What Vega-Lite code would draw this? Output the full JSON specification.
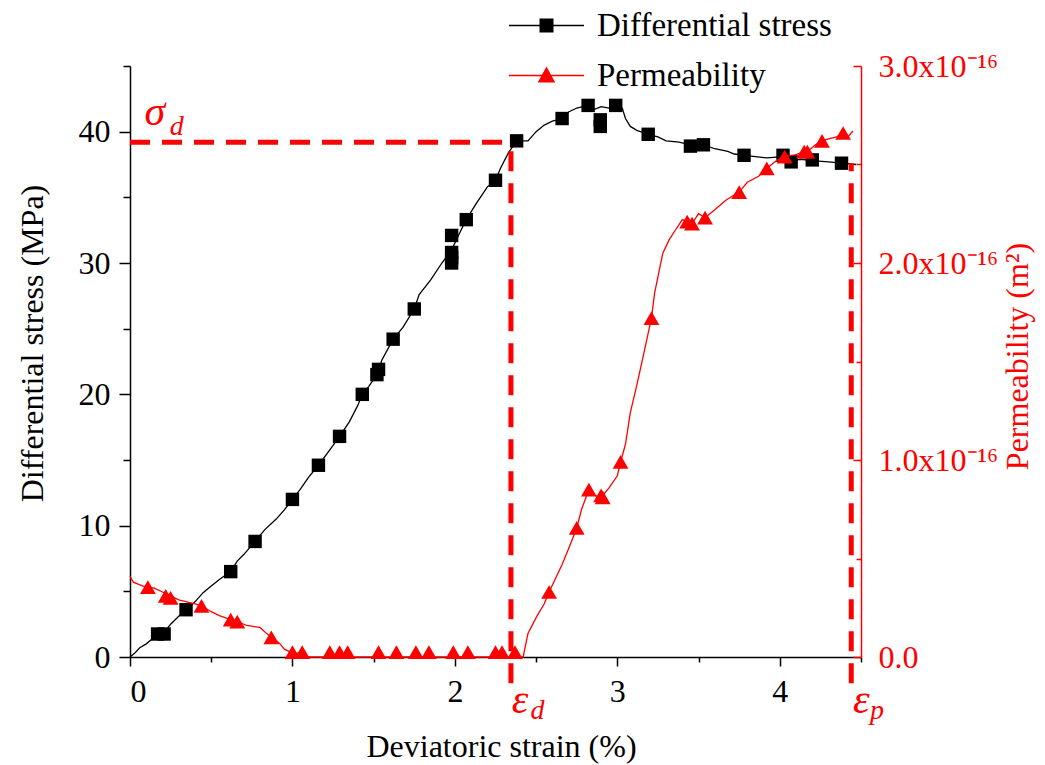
{
  "$schema": "https://vega.github.io/schema/vega-lite/v6.json",
  "width": 731,
  "height": 591,
  "autosize": {"type": "none"},
  "padding": {"left": 130, "top": 66, "right": 184, "bottom": 108},
  "background": "white",
  "config": {
    "view": {"stroke": null},
    "font": "Liberation Serif",
    "axis": {
      "labelFont": "Liberation Serif",
      "titleFont": "Liberation Serif",
      "labelFontSize": 32,
      "titleFontSize": 32,
      "titleFontWeight": "normal",
      "labelColor": "#000000",
      "titleColor": "#000000",
      "grid": false,
      "domainWidth": 1.5,
      "tickWidth": 1.5,
      "domainColor": "#000000",
      "tickColor": "#000000"
    }
  },
  "datasets": {
    "stressLine": [
      {"strain": 0, "stress": 0}, {"strain": 0.03, "stress": 0.3}, {"strain": 0.06, "stress": 0.7},
      {"strain": 0.1, "stress": 1.0}, {"strain": 0.14, "stress": 1.4}, {"strain": 0.17, "stress": 1.75},
      {"strain": 0.21, "stress": 1.85}, {"strain": 0.25, "stress": 2.5}, {"strain": 0.3, "stress": 3.1},
      {"strain": 0.345, "stress": 3.6}, {"strain": 0.4, "stress": 4.2}, {"strain": 0.45, "stress": 4.9},
      {"strain": 0.5, "stress": 5.4}, {"strain": 0.55, "stress": 5.9}, {"strain": 0.62, "stress": 6.5},
      {"strain": 0.66, "stress": 7.3}, {"strain": 0.7, "stress": 7.8}, {"strain": 0.77, "stress": 8.8},
      {"strain": 0.83, "stress": 9.7}, {"strain": 0.9, "stress": 10.5}, {"strain": 0.95, "stress": 11.2},
      {"strain": 1.0, "stress": 12.0}, {"strain": 1.05, "stress": 12.8}, {"strain": 1.1, "stress": 13.7},
      {"strain": 1.16, "stress": 14.6}, {"strain": 1.22, "stress": 15.6}, {"strain": 1.29, "stress": 16.8},
      {"strain": 1.35, "stress": 17.9}, {"strain": 1.4, "stress": 19.1}, {"strain": 1.43, "stress": 20.0},
      {"strain": 1.47, "stress": 20.6}, {"strain": 1.52, "stress": 21.5}, {"strain": 1.55, "stress": 22.6},
      {"strain": 1.62, "stress": 24.2}, {"strain": 1.68, "stress": 25.1}, {"strain": 1.75, "stress": 26.5},
      {"strain": 1.78, "stress": 27.6}, {"strain": 1.85, "stress": 28.7}, {"strain": 1.92, "stress": 30.0},
      {"strain": 1.98, "stress": 31.0}, {"strain": 2.03, "stress": 32.3}, {"strain": 2.07, "stress": 33.3},
      {"strain": 2.13, "stress": 34.5}, {"strain": 2.2, "stress": 35.8}, {"strain": 2.25, "stress": 36.3},
      {"strain": 2.28, "stress": 37.2}, {"strain": 2.33, "stress": 38.4}, {"strain": 2.38, "stress": 39.3},
      {"strain": 2.45, "stress": 39.3}, {"strain": 2.5, "stress": 40.0}, {"strain": 2.55, "stress": 40.5},
      {"strain": 2.6, "stress": 40.8}, {"strain": 2.66, "stress": 41.0}, {"strain": 2.7, "stress": 41.5},
      {"strain": 2.75, "stress": 41.8}, {"strain": 2.82, "stress": 42.0}, {"strain": 2.86, "stress": 41.7},
      {"strain": 2.9, "stress": 41.9}, {"strain": 2.95, "stress": 41.8}, {"strain": 2.99, "stress": 42.0},
      {"strain": 3.03, "stress": 41.8}, {"strain": 3.05, "stress": 41.0}, {"strain": 3.08, "stress": 40.4},
      {"strain": 3.12, "stress": 40.1}, {"strain": 3.19, "stress": 39.8}, {"strain": 3.25, "stress": 39.6},
      {"strain": 3.3, "stress": 39.3}, {"strain": 3.38, "stress": 39.2}, {"strain": 3.45, "stress": 39.0},
      {"strain": 3.53, "stress": 39.0}, {"strain": 3.6, "stress": 38.7}, {"strain": 3.68, "stress": 38.5},
      {"strain": 3.72, "stress": 38.3}, {"strain": 3.78, "stress": 38.2}, {"strain": 3.85, "stress": 38.1},
      {"strain": 3.92, "stress": 38.0}, {"strain": 4.02, "stress": 38.1}, {"strain": 4.07, "stress": 37.8},
      {"strain": 4.13, "stress": 37.9}, {"strain": 4.2, "stress": 37.8}, {"strain": 4.3, "stress": 37.7},
      {"strain": 4.38, "stress": 37.6}, {"strain": 4.47, "stress": 37.5}
    ],
    "stressMarks": [
      {"strain": 0.17, "stress": 1.75}, {"strain": 0.21, "stress": 1.75}, {"strain": 0.345, "stress": 3.6},
      {"strain": 0.62, "stress": 6.5}, {"strain": 0.77, "stress": 8.8}, {"strain": 1.0, "stress": 12.0},
      {"strain": 1.16, "stress": 14.6}, {"strain": 1.29, "stress": 16.8}, {"strain": 1.43, "stress": 20.0},
      {"strain": 1.52, "stress": 21.5}, {"strain": 1.53, "stress": 21.9}, {"strain": 1.62, "stress": 24.2},
      {"strain": 1.75, "stress": 26.5}, {"strain": 1.98, "stress": 30.0}, {"strain": 1.98, "stress": 30.4},
      {"strain": 1.98, "stress": 30.8}, {"strain": 1.98, "stress": 32.1}, {"strain": 2.07, "stress": 33.3},
      {"strain": 2.25, "stress": 36.3}, {"strain": 2.38, "stress": 39.3}, {"strain": 2.66, "stress": 41.0},
      {"strain": 2.82, "stress": 42.0}, {"strain": 2.895, "stress": 40.4}, {"strain": 2.895, "stress": 40.9},
      {"strain": 2.99, "stress": 42.0}, {"strain": 3.19, "stress": 39.8}, {"strain": 3.45, "stress": 38.9},
      {"strain": 3.53, "stress": 39.0}, {"strain": 3.78, "stress": 38.2}, {"strain": 4.02, "stress": 38.2},
      {"strain": 4.07, "stress": 37.7}, {"strain": 4.2, "stress": 37.85}, {"strain": 4.38, "stress": 37.6}
    ],
    "permLine": [
      {"strain": 0, "perm": 4.1e-17}, {"strain": 0.02, "perm": 3.8e-17}, {"strain": 0.05, "perm": 3.7e-17},
      {"strain": 0.08, "perm": 3.6e-17}, {"strain": 0.11, "perm": 3.55e-17}, {"strain": 0.15, "perm": 3.5e-17},
      {"strain": 0.2, "perm": 3.3e-17}, {"strain": 0.25, "perm": 3.1e-17}, {"strain": 0.3, "perm": 2.9e-17},
      {"strain": 0.35, "perm": 2.8e-17}, {"strain": 0.4, "perm": 2.7e-17}, {"strain": 0.44, "perm": 2.6e-17},
      {"strain": 0.5, "perm": 2.3e-17}, {"strain": 0.55, "perm": 2.1e-17}, {"strain": 0.62, "perm": 1.9e-17},
      {"strain": 0.66, "perm": 1.8e-17}, {"strain": 0.72, "perm": 1.6e-17}, {"strain": 0.8, "perm": 1.5e-17},
      {"strain": 0.84, "perm": 1.2e-17}, {"strain": 0.87, "perm": 1.0e-17}, {"strain": 0.92, "perm": 7e-18},
      {"strain": 0.95, "perm": 4e-18}, {"strain": 1.0, "perm": 2e-18}, {"strain": 1.06, "perm": 2e-18},
      {"strain": 1.1, "perm": 0}, {"strain": 2.42, "perm": 0}, {"strain": 2.45, "perm": 1.2e-17},
      {"strain": 2.5, "perm": 2.0e-17}, {"strain": 2.55, "perm": 2.7e-17}, {"strain": 2.58, "perm": 3.3e-17},
      {"strain": 2.62, "perm": 4.0e-17}, {"strain": 2.66, "perm": 4.7e-17}, {"strain": 2.7, "perm": 5.5e-17},
      {"strain": 2.75, "perm": 6.55e-17}, {"strain": 2.78, "perm": 7.5e-17}, {"strain": 2.825, "perm": 8.5e-17},
      {"strain": 2.86, "perm": 8.2e-17}, {"strain": 2.9, "perm": 8.1e-17}, {"strain": 2.95, "perm": 8.6e-17},
      {"strain": 3.0, "perm": 9.2e-17}, {"strain": 3.02, "perm": 9.9e-17}, {"strain": 3.05, "perm": 1.08e-16},
      {"strain": 3.08, "perm": 1.24e-16}, {"strain": 3.12, "perm": 1.38e-16}, {"strain": 3.16, "perm": 1.53e-16},
      {"strain": 3.21, "perm": 1.72e-16}, {"strain": 3.23, "perm": 1.85e-16}, {"strain": 3.26, "perm": 1.97e-16},
      {"strain": 3.28, "perm": 2.05e-16}, {"strain": 3.32, "perm": 2.12e-16}, {"strain": 3.36, "perm": 2.17e-16},
      {"strain": 3.4, "perm": 2.22e-16}, {"strain": 3.43, "perm": 2.21e-16}, {"strain": 3.46, "perm": 2.2e-16},
      {"strain": 3.5, "perm": 2.25e-16}, {"strain": 3.54, "perm": 2.23e-16}, {"strain": 3.6, "perm": 2.27e-16},
      {"strain": 3.67, "perm": 2.32e-16}, {"strain": 3.75, "perm": 2.36e-16}, {"strain": 3.8, "perm": 2.41e-16},
      {"strain": 3.87, "perm": 2.44e-16}, {"strain": 3.92, "perm": 2.48e-16}, {"strain": 3.98, "perm": 2.52e-16},
      {"strain": 4.03, "perm": 2.54e-16}, {"strain": 4.1, "perm": 2.55e-16}, {"strain": 4.15, "perm": 2.565e-16},
      {"strain": 4.17, "perm": 2.565e-16}, {"strain": 4.22, "perm": 2.6e-16}, {"strain": 4.26, "perm": 2.62e-16},
      {"strain": 4.3, "perm": 2.63e-16}, {"strain": 4.35, "perm": 2.64e-16}, {"strain": 4.39, "perm": 2.66e-16},
      {"strain": 4.42, "perm": 2.64e-16}, {"strain": 4.45, "perm": 2.67e-16}
    ],
    "permMarks": [
      {"strain": 0.11, "perm": 3.55e-17}, {"strain": 0.22, "perm": 3.1e-17}, {"strain": 0.25, "perm": 3.0e-17},
      {"strain": 0.44, "perm": 2.6e-17}, {"strain": 0.62, "perm": 1.9e-17}, {"strain": 0.66, "perm": 1.8e-17},
      {"strain": 0.87, "perm": 1.0e-17}, {"strain": 1.0, "perm": 2.5e-18}, {"strain": 1.06, "perm": 2.5e-18},
      {"strain": 1.23, "perm": 2.5e-18}, {"strain": 1.29, "perm": 2.5e-18}, {"strain": 1.34, "perm": 2.5e-18},
      {"strain": 1.53, "perm": 2.5e-18}, {"strain": 1.64, "perm": 2.5e-18}, {"strain": 1.76, "perm": 2.5e-18},
      {"strain": 1.84, "perm": 2.5e-18}, {"strain": 1.99, "perm": 2.5e-18}, {"strain": 2.08, "perm": 2.5e-18},
      {"strain": 2.25, "perm": 2.5e-18}, {"strain": 2.29, "perm": 2.5e-18}, {"strain": 2.37, "perm": 2.5e-18},
      {"strain": 2.58, "perm": 3.3e-17}, {"strain": 2.75, "perm": 6.55e-17}, {"strain": 2.825, "perm": 8.5e-17},
      {"strain": 2.9, "perm": 8.2e-17}, {"strain": 2.91, "perm": 8.1e-17}, {"strain": 3.02, "perm": 9.9e-17},
      {"strain": 3.21, "perm": 1.72e-16}, {"strain": 3.43, "perm": 2.21e-16}, {"strain": 3.46, "perm": 2.2e-16},
      {"strain": 3.54, "perm": 2.23e-16}, {"strain": 3.75, "perm": 2.36e-16}, {"strain": 3.92, "perm": 2.48e-16},
      {"strain": 4.03, "perm": 2.54e-16}, {"strain": 4.15, "perm": 2.565e-16}, {"strain": 4.17, "perm": 2.565e-16},
      {"strain": 4.26, "perm": 2.62e-16}, {"strain": 4.39, "perm": 2.66e-16}
    ],
    "guides": [
      {"strain": 0, "strain2": 2.345, "stress": 39.2, "stress2": 39.2},
      {"strain": 2.345, "strain2": 2.345, "stress": -2, "stress2": 39.2},
      {"strain": 4.44, "strain2": 4.44, "stress": -2, "stress2": 37.6}
    ],
    "symbols": [
      {"label": "σ", "strain": 0.09, "stress": 40.5},
      {"label": "ε", "strain": 2.35, "stress": -4.3},
      {"label": "ε", "strain": 4.45, "stress": -4.3}
    ],
    "subscripts": [
      {"label": "d", "strain": 0.245, "stress": 39.75},
      {"label": "d", "strain": 2.465, "stress": -4.75},
      {"label": "p", "strain": 4.555, "stress": -4.7}
    ]
  },
  "layer": [
    {
      "layer": [
        {
          "data": {"name": "stressLine"},
          "mark": {"type": "line", "color": "#000000", "strokeWidth": 1.3},
          "encoding": {
            "x": {
              "field": "strain", "type": "quantitative",
              "scale": {"domain": [0, 4.5], "nice": false},
              "axis": {
                "orient": "bottom",
                "values": [0, 1, 2, 3, 4],
                "format": "d",
                "tickSize": 9,
                "labelPadding": 10,
                "title": "Deviatoric strain (%)",
                "titleX": 371,
                "titleY": 99,
                "titleBaseline": "alphabetic"
              }
            },
            "y": {
              "field": "stress", "type": "quantitative",
              "scale": {"domain": [0, 45], "nice": false},
              "axis": {
                "orient": "left",
                "values": [0, 10, 20, 30, 40],
                "format": "d",
                "tickSize": 11,
                "labelPadding": 9,
                "title": "Differential stress (MPa)",
                "titleAngle": -90,
                "titleX": -88,
                "titleY": 277,
                "titleAlign": "center",
                "titleBaseline": "alphabetic"
              }
            }
          }
        },
        {
          "data": {"name": "stressMarks"},
          "mark": {"type": "point", "shape": "square", "filled": true, "size": 180, "opacity": 1, "color": "#000000"},
          "encoding": {
            "x": {"field": "strain", "type": "quantitative"},
            "y": {"field": "stress", "type": "quantitative"}
          }
        },
        {
          "data": {"name": "guides"},
          "mark": {"type": "rule", "color": "#ff0000", "strokeWidth": 5, "strokeDash": [20, 12]},
          "encoding": {
            "x": {"field": "strain", "type": "quantitative"},
            "x2": {"field": "strain2"},
            "y": {"field": "stress", "type": "quantitative"},
            "y2": {"field": "stress2"}
          }
        },
        {
          "data": {"name": "symbols"},
          "mark": {"type": "text", "font": "Liberation Serif", "fontStyle": "italic", "fontSize": 42, "color": "#ff0000", "align": "left", "baseline": "alphabetic"},
          "encoding": {
            "x": {"field": "strain", "type": "quantitative"},
            "y": {"field": "stress", "type": "quantitative"},
            "text": {"field": "label"}
          }
        },
        {
          "data": {"name": "subscripts"},
          "mark": {"type": "text", "font": "Liberation Serif", "fontStyle": "italic", "fontSize": 28, "color": "#ff0000", "align": "left", "baseline": "alphabetic"},
          "encoding": {
            "x": {"field": "strain", "type": "quantitative"},
            "y": {"field": "stress", "type": "quantitative"},
            "text": {"field": "label"}
          }
        },
        {
          "data": {"values": []},
          "mark": {"type": "point", "filled": true, "opacity": 1, "strokeWidth": 1.5, "size": 625},
          "encoding": {
            "fill": {
              "datum": "Differential stress",
              "scale": {"domain": ["Differential stress", "Permeability"], "range": ["#000000", "#ff0000"]},
              "legend": {"title": null, "orient": "none", "legendX": 400, "legendY": -57, "padding": 0, "labelFont": "Liberation Serif", "labelFontSize": 33, "labelColor": "#000000", "labelLimit": 0, "labelOffset": 34, "rowPadding": 16, "symbolSize": 625, "symbolStrokeWidth": 1.5}
            },
            "stroke": {
              "datum": "Differential stress",
              "scale": {"domain": ["Differential stress", "Permeability"], "range": ["#000000", "#ff0000"]},
              "legend": {"title": null, "orient": "none", "legendX": 400, "legendY": -57, "padding": 0, "labelFont": "Liberation Serif", "labelFontSize": 33, "labelColor": "#000000", "labelLimit": 0, "labelOffset": 34, "rowPadding": 16, "symbolSize": 625, "symbolStrokeWidth": 1.5}
            },
            "shape": {
              "datum": "Differential stress",
              "scale": {"domain": ["Differential stress", "Permeability"], "range": ["M-3,0H3M-0.5,-0.5H0.5V0.5H-0.5Z", "M-3,0H3M0,-0.6L0.6,0.5L-0.6,0.5Z"]},
              "legend": {"title": null, "orient": "none", "legendX": 400, "legendY": -57, "padding": 0, "labelFont": "Liberation Serif", "labelFontSize": 33, "labelColor": "#000000", "labelLimit": 0, "labelOffset": 34, "rowPadding": 16, "symbolSize": 625, "symbolStrokeWidth": 1.5}
            }
          }
        },
        {
          "data": {"values": []},
          "mark": {"type": "point", "filled": true, "opacity": 1, "strokeWidth": 1.5, "size": 625},
          "encoding": {
            "fill": {"datum": "Permeability"},
            "stroke": {"datum": "Permeability"},
            "shape": {"datum": "Permeability"}
          }
        }
      ]
    },
    {
      "layer": [
        {
          "data": {"name": "permLine"},
          "mark": {"type": "line", "color": "#ff0000", "strokeWidth": 1.3},
          "encoding": {
            "x": {"field": "strain", "type": "quantitative", "scale": {"domain": [0, 4.5], "nice": false}, "axis": null},
            "y": {
              "field": "perm", "type": "quantitative",
              "scale": {"domain": [0, 3e-16], "nice": false},
              "axis": {
                "orient": "right",
                "values": [0, 1e-16, 2e-16, 3e-16],
                "labelExpr": "datum.value === 0 ? '0.0' : format(datum.value * 1e16, '.1f') + 'x10⁻¹⁶'",
                "tickSize": -8,
                "labelPadding": 25,
                "labelColor": "#ff0000",
                "domainColor": "#ff0000",
                "tickColor": "#ff0000",
                "title": "Permeability (m²)",
                "titleColor": "#ff0000",
                "titleAngle": -90,
                "titleX": 166,
                "titleY": 290,
                "titleAlign": "center",
                "titleBaseline": "alphabetic"
              }
            }
          }
        },
        {
          "data": {"name": "permMarks"},
          "mark": {"type": "point", "shape": "triangle-up", "filled": true, "size": 250, "opacity": 1, "color": "#ff0000"},
          "encoding": {
            "x": {"field": "strain", "type": "quantitative"},
            "y": {"field": "perm", "type": "quantitative"}
          }
        }
      ]
    },
    {
      "data": {"values": []},
      "mark": {"type": "point"},
      "encoding": {
        "x": {"field": "strain", "type": "quantitative", "scale": {"domain": [0, 4.5], "nice": false}, "axis": {"orient": "bottom", "values": [0.5, 1.5, 2.5, 3.5, 4.5], "tickSize": 5, "labels": false, "domain": false, "title": null}},
        "y": {"field": "stress", "type": "quantitative", "scale": {"domain": [0, 45], "nice": false}, "axis": {"orient": "left", "values": [5, 15, 25, 35, 45], "tickSize": 7, "labels": false, "domain": false, "title": null}}
      }
    },
    {
      "data": {"values": []},
      "mark": {"type": "point"},
      "encoding": {
        "x": {"field": "strain", "type": "quantitative", "scale": {"domain": [0, 4.5], "nice": false}, "axis": null},
        "y": {"field": "perm", "type": "quantitative", "scale": {"domain": [0, 3e-16], "nice": false}, "axis": {"orient": "right", "values": [5e-17, 1.5e-16, 2.5e-16], "tickSize": -5, "labels": false, "domain": false, "title": null, "tickColor": "#ff0000"}}
      }
    }
  ],
  "resolve": {"scale": {"x": "independent", "y": "independent"}}
}
